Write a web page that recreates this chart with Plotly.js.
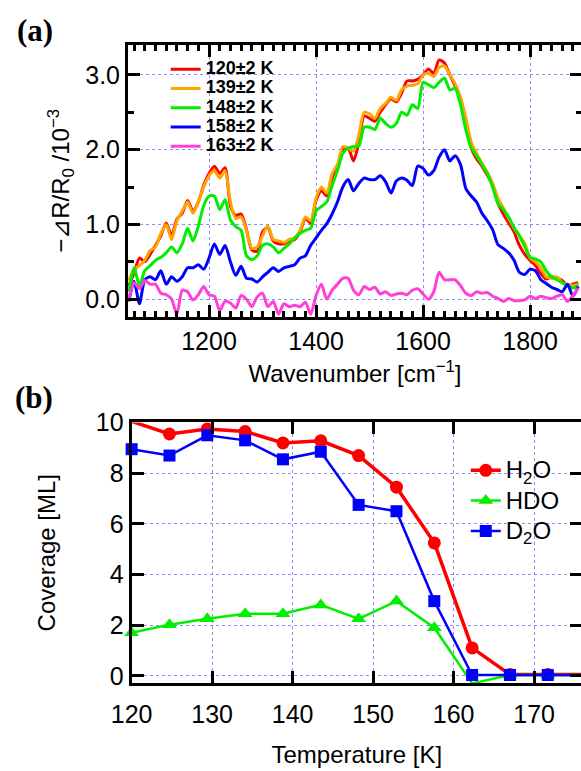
<!DOCTYPE html>
<html><head><meta charset="utf-8">
<script src="https://cdn.plot.ly/plotly-3.0.1.min.js"></script>
<style>html,body{margin:0;padding:0;overflow:hidden;background:#fff}#plot{width:586px;height:771px}</style>
</head><body><div id="plot"></div><script>
const wavenumber = [1050,1060,1070,1080,1090,1100,1110,1120,1130,1140,
1150,1160,1170,1180,1190,1200,1210,1220,1230,1240,
1250,1260,1270,1280,1290,1300,1310,1320,1330,1340,
1350,1360,1370,1380,1390,1400,1410,1420,1430,1440,
1450,1460,1470,1480,1490,1500,1510,1520,1530,1540,
1550,1560,1570,1580,1590,1600,1610,1620,1630,1640,
1650,1660,1670,1680,1690,1700,1710,1720,1730,1740,
1750,1760,1770,1780,1790,1800,1810,1820,1830,1840,
1850,1860,1870,1880,1890];
const dR120 = [0.18,0.35,0.55,0.50,0.60,0.72,0.85,1.02,0.85,1.07,
1.15,1.32,1.18,1.30,1.52,1.68,1.78,1.68,1.76,1.25,
1.12,1.14,0.93,0.66,0.64,0.90,0.96,0.78,0.74,0.74,
0.78,0.80,0.90,1.08,1.02,1.32,1.45,1.38,1.62,1.75,
2.00,2.02,1.85,2.10,2.45,2.42,2.38,2.50,2.60,2.68,
2.64,2.76,2.92,2.92,2.94,3.00,3.08,3.02,3.20,3.16,
3.00,2.85,2.68,2.38,2.02,1.88,1.78,1.66,1.52,1.28,
1.14,1.02,0.90,0.72,0.60,0.52,0.45,0.34,0.27,0.30,
0.28,0.25,0.18,0.20,0.22];
const dR139 = [0.25,0.40,0.45,0.52,0.65,0.70,0.88,1.00,0.80,1.05,
1.18,1.30,1.15,1.30,1.50,1.65,1.72,1.62,1.72,1.30,
1.08,1.10,0.92,0.68,0.70,0.85,0.98,0.80,0.78,0.76,
0.80,0.82,0.92,1.10,1.05,1.35,1.50,1.42,1.68,1.80,
2.04,2.02,1.98,2.20,2.50,2.48,2.42,2.55,2.62,2.70,
2.66,2.80,2.85,2.86,2.88,3.00,3.02,2.98,3.10,3.12,
3.00,2.88,2.70,2.42,2.10,1.95,1.82,1.70,1.55,1.35,
1.22,1.08,0.95,0.85,0.75,0.55,0.50,0.42,0.30,0.28,
0.30,0.22,0.20,0.18,0.20];
const dR148 = [0.10,0.42,0.18,0.38,0.45,0.52,0.56,0.62,0.70,0.62,
0.74,0.95,0.78,0.98,1.25,1.38,1.38,1.20,1.33,1.06,
0.97,0.92,0.58,0.53,0.58,0.72,0.74,0.70,0.62,0.68,
0.74,0.82,0.88,0.92,0.95,1.18,1.24,1.30,1.52,1.72,
1.95,2.02,2.04,2.05,2.30,2.30,2.27,2.42,2.35,2.30,
2.35,2.50,2.46,2.60,2.55,2.90,2.87,2.83,2.90,2.96,
2.80,2.82,2.60,2.26,2.02,1.92,1.80,1.68,1.50,1.28,
1.20,1.10,0.96,0.85,0.70,0.56,0.54,0.50,0.38,0.30,
0.26,0.22,0.18,0.15,0.19];
const dR158 = [-0.03,0.24,-0.06,0.26,0.30,0.26,0.38,0.20,0.30,0.24,
0.30,0.42,0.42,0.46,0.40,0.55,0.74,0.60,0.72,0.50,
0.32,0.44,0.28,0.27,0.23,0.30,0.36,0.42,0.37,0.42,
0.44,0.46,0.55,0.58,0.72,0.82,0.92,1.01,1.14,1.30,
1.50,1.60,1.45,1.55,1.62,1.60,1.60,1.65,1.57,1.42,
1.58,1.62,1.59,1.52,1.78,1.75,1.66,1.72,1.90,2.00,
1.85,1.92,1.80,1.48,1.38,1.30,1.15,1.05,0.93,0.73,
0.68,0.62,0.52,0.36,0.33,0.40,0.38,0.26,0.21,0.16,
0.13,0.10,0.20,0.04,0.17];
const dR163 = [0.00,0.22,0.14,0.25,0.20,0.20,0.08,0.06,0.00,-0.20,
0.12,0.10,-0.01,0.06,0.17,0.06,0.04,-0.15,-0.03,-0.05,
-0.12,0.05,0.00,-0.10,0.03,0.08,-0.10,-0.03,-0.20,-0.06,
-0.10,-0.08,-0.10,-0.04,-0.20,0.05,0.20,0.00,0.12,0.20,
0.28,0.28,0.12,0.06,0.17,0.13,0.16,0.07,0.10,0.05,
0.07,0.08,0.06,0.12,0.14,0.07,0.00,0.10,0.36,0.26,
0.26,0.26,0.18,0.08,0.05,0.10,0.08,0.09,0.04,0.01,
-0.03,0.01,-0.02,-0.02,-0.01,0.04,0.01,0.04,0.02,0.01,
0.04,0.06,-0.03,0.05,0.15];
const spectraLabels = ['120±2 K','139±2 K','148±2 K','158±2 K','163±2 K'];

const temperature = [120,124.7,129.4,134.1,138.8,143.5,148.2,152.9,157.6,162.3,167.0,171.7,176.4];
const covH2O = [10.05,9.55,9.75,9.65,9.2,9.28,8.7,7.45,5.25,1.1,0.05,0.05,0.05];
const covHDO = [1.7,2.02,2.25,2.45,2.45,2.8,2.25,2.95,1.9,-0.3,0.03,0.03,0.03];
const covD2O = [8.95,8.7,9.5,9.3,8.55,8.85,6.75,6.5,2.95,0.03,0.03,0.03,0.03];
const coverageLabels = ['H<sub>2</sub>O','HDO','D<sub>2</sub>O'];

const specColors = ['#ff0000','#ffa500','#00ee00','#0000ff','#ff40d8'];
const specData = [dR120,dR139,dR148,dR158,dR163];
const traces = specData.map((y,i)=>({
  x: wavenumber, y: y, type:'scatter', mode:'lines',
  name: '<span style="font-size:18px">' + spectraLabels[i] + '</span>',
  line:{color:specColors[i], width:3, shape:'spline', smoothing:0.7},
  xaxis:'x', yaxis:'y', legend:'legend'
}));
const covSeries = [covH2O, covHDO, covD2O];
const covColors = ['#ff0000','#00ee00','#0000ff'];
const covSymbols = ['circle','triangle-up','square'];
const covWidths = [3.5,2.5,2.5];
covSeries.forEach((y,i)=>traces.push({
  x: temperature, y: y, type:'scatter', mode:'lines+markers',
  name: '<span style="font-size:24px">' + coverageLabels[i] + '</span>',
  line:{color:covColors[i], width:covWidths[i]},
  marker:{color:covColors[i], symbol:covSymbols[i], size: i===2?12:13},
  cliponaxis:false, xaxis:'x2', yaxis:'y2', legend:'legend2'
}));

const F = 'Liberation Sans, Arial, sans-serif';
const axBase = {
  showline:true, linewidth:3, linecolor:'#000', mirror:'allticks',
  ticks:'inside', ticklen:12, tickwidth:3, tickcolor:'#000',
  showgrid:true, gridcolor:'#8c8cff', griddash:'dot', gridwidth:1,
  zeroline:false, tickfont:{family:F, size:25, color:'#000'}, automargin:false
};
const layout = {
  width:586, height:771, paper_bgcolor:'#fff', plot_bgcolor:'#fff',
  margin:{l:128, r:4, t:45, b:88},
  showlegend:true,
  xaxis: Object.assign({}, axBase, {
    domain:[0,1], anchor:'y', range:[1048.6,1897], tick0:1200, dtick:200,
    minor:{tick0:1200, dtick:20, ticks:'inside', ticklen:6, tickwidth:3, tickcolor:'#000', showgrid:false},
    ticklabelstandoff:0,
    title:{text:'Wavenumber [cm<sup>−1</sup>]', font:{family:F, size:24, color:'#000'}, standoff:12}
  }),
  yaxis: Object.assign({}, axBase, {
    domain:[0.574,1], anchor:'x', range:[-0.235,3.4], tick0:0, dtick:1, tickformat:'.1f',
    minor:{tick0:0, dtick:0.5, ticks:'inside', ticklen:6, tickwidth:3, tickcolor:'#000', showgrid:false},
    ticklabelstandoff:0,
    title:{text:'−⊿R/R<sub>0</sub> /10<sup>−3</sup>', font:{family:F, size:24, color:'#000'}, standoff:9}
  }),
  xaxis2: Object.assign({}, axBase, {
    domain:[0.008,1], anchor:'y2', range:[120,175.95], tick0:120, dtick:10,
    ticklabelstandoff:7,
    title:{text:'Temperature [K]', font:{family:F, size:24, color:'#000'}, standoff:20}
  }),
  yaxis2: Object.assign({}, axBase, {
    domain:[0,0.4085], anchor:'x2', range:[-0.285,10.01], tick0:0, dtick:2,
    ticklabelstandoff:0,
    title:{text:'Coverage [ML]', font:{family:F, size:24, color:'#000'}, standoff:34}
  }),
  legend:{x:0.083, y:0.985, xanchor:'left', yanchor:'top', bgcolor:'rgba(0,0,0,0)',
    font:{family:F, size:12.5, color:'#000', weight:'bold'}, tracegroupgap:0},
  legend2:{x:0.744, y:0.365, xanchor:'left', yanchor:'top', bgcolor:'rgba(0,0,0,0)',
    font:{family:F, size:21, color:'#000'}, tracegroupgap:0},
  annotations:[
    {text:'(a)', xref:'paper', yref:'paper', x:-0.205, y:1.022, xanchor:'center', yanchor:'middle', showarrow:false,
     font:{family:'Liberation Serif, Times New Roman, serif', size:31, color:'#000', weight:'bold'}},
    {text:'(b)', xref:'paper', yref:'paper', x:-0.207, y:0.448, xanchor:'center', yanchor:'middle', showarrow:false,
     font:{family:'Liberation Serif, Times New Roman, serif', size:31, color:'#000', weight:'bold'}}
  ]
};
Plotly.newPlot('plot', traces, layout, {displayModeBar:false, staticPlot:true});
</script></body></html>
